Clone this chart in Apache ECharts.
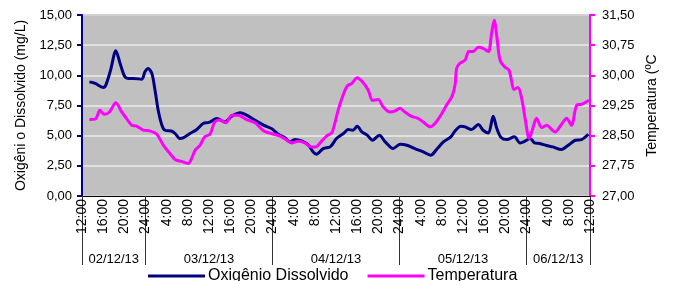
<!DOCTYPE html>
<html>
<head>
<meta charset="utf-8">
<script src="https://cdn.jsdelivr.net/npm/echarts@6/dist/echarts.min.js"></script>
<style>
  html, body { margin: 0; padding: 0; background: #fff; }
  #chart { width: 674px; height: 281px; }
</style>
</head>
<body>
<div id="chart"></div>
<script>
// hours since 02/12/13 12:00
const doHours = [1.4, 2.5, 4.0, 4.5, 5.4, 6.4, 7.2, 8.1, 8.9, 9.7, 11.3, 11.9, 12.5, 13.2, 13.8, 14.4, 15.1, 15.7, 16.9, 17.6, 18.5, 19.1, 20.4, 21.7, 22.9, 24.0, 25.5, 27.0, 28.3, 29.9, 31.1, 32.7, 34.3, 35.8, 37.1, 38.4, 39.3, 40.2, 41.5, 42.8, 43.7, 44.3, 45.6, 46.9, 48.1, 49.4, 50.3, 51.2, 52.0, 52.9, 53.9, 54.9, 56.2, 57.3, 58.8, 60.1, 61.4, 62.9, 64.5, 65.9, 67.0, 68.3, 69.7, 70.5, 71.6, 72.4, 73.6, 74.9, 75.8, 76.8, 77.7, 78.4, 79.2, 80.3, 81.7, 82.8, 83.7, 84.7, 85.5, 86.5, 87.8, 89.0, 90.6, 91.9, 93.2, 94.4, 95.7];
const doValues = [9.46, 9.33, 9.0, 9.19, 10.43, 12.03, 10.99, 9.88, 9.74, 9.74, 9.68, 10.29, 10.57, 10.16, 8.77, 7.11, 5.87, 5.45, 5.39, 5.18, 4.76, 4.81, 5.18, 5.51, 6.01, 6.1, 6.42, 6.14, 6.61, 6.89, 6.70, 6.28, 5.87, 5.59, 5.12, 4.81, 4.48, 4.68, 4.56, 4.21, 3.65, 3.46, 3.93, 4.07, 4.76, 5.18, 5.51, 5.45, 5.78, 5.31, 5.04, 4.62, 5.04, 4.48, 3.93, 4.29, 4.21, 3.93, 3.65, 3.38, 3.85, 4.48, 4.90, 5.39, 5.78, 5.73, 5.51, 5.92, 5.45, 5.23, 6.61, 5.59, 4.85, 4.68, 4.90, 4.40, 4.54, 4.76, 4.40, 4.35, 4.18, 4.07, 3.85, 4.21, 4.62, 4.68, 5.12];

const tempHours = [1.4, 2.5, 3.4, 4.2, 5.2, 6.4, 7.5, 8.4, 9.4, 10.3, 11.6, 12.8, 14.1, 15.4, 16.6, 17.6, 18.8, 20.1, 20.7, 21.4, 22.3, 23.2, 24.2, 25.1, 26.1, 27.2, 28.3, 29.5, 31.1, 32.7, 34.3, 35.8, 37.4, 38.7, 39.6, 40.9, 42.1, 43.4, 44.2, 45.0, 46.2, 47.2, 47.6, 48.4, 49.1, 50.1, 51.0, 52.0, 53.0, 54.1, 54.9, 56.0, 56.9, 58.2, 59.1, 60.1, 61.0, 62.3, 63.5, 64.5, 65.8, 66.7, 68.0, 68.9, 69.9, 70.5, 70.8, 71.4, 72.4, 73.1, 73.9, 74.9, 75.8, 76.8, 77.4, 77.9, 78.4, 79.0, 79.9, 80.7, 81.7, 82.4, 83.1, 83.8, 84.5, 85.1, 85.9, 86.9, 87.8, 89.4, 90.5, 91.6, 92.5, 93.5, 94.4, 95.3, 95.8];
const tempValues = [28.90, 28.91, 29.13, 29.03, 29.09, 29.32, 29.09, 28.93, 28.76, 28.74, 28.64, 28.62, 28.54, 28.26, 28.06, 27.91, 27.86, 27.81, 27.93, 28.14, 28.26, 28.47, 28.54, 28.84, 28.89, 28.82, 29.01, 29.01, 28.90, 28.82, 28.62, 28.55, 28.49, 28.39, 28.32, 28.36, 28.32, 28.22, 28.22, 28.32, 28.49, 28.57, 28.72, 29.13, 29.42, 29.73, 29.80, 29.94, 29.84, 29.63, 29.38, 29.40, 29.22, 29.09, 29.11, 29.18, 29.09, 28.98, 28.93, 28.84, 28.72, 28.80, 29.05, 29.26, 29.47, 29.76, 30.17, 30.30, 30.38, 30.59, 30.59, 30.70, 30.67, 30.59, 31.04, 31.37, 30.96, 30.38, 30.21, 30.13, 29.65, 29.70, 29.42, 28.88, 28.43, 28.64, 28.93, 28.70, 28.76, 28.59, 28.76, 28.93, 28.76, 29.26, 29.28, 29.34, 29.38];

const dayBounds = [0, 12, 36, 60, 84, 96];
const dayCenters = [6, 24, 48, 72, 90];
const dayLabels = ["02/12/13", "03/12/13", "04/12/13", "05/12/13", "06/12/13"];

const FONT = "Liberation Sans";
const NAVY = "#000080", MAGENTA = "#ff00ff";

const comma = (v) => v.toFixed(2).replace(".", ",");
const hourLabel = (v) => {
  const h = (12 + v) % 24;
  return (h === 0 && v !== 0 ? 24 : h) + ":00";
};
const zip = (xs, ys) => xs.map((x, i) => [x, ys[i]]);

const chart = echarts.init(document.getElementById("chart"), null, { renderer: "canvas" });
chart.setOption({
  animation: false,
  textStyle: { fontFamily: FONT },
  grid: {
    left: 82, right: 84, top: 15, bottom: 85,
    show: true, backgroundColor: "#c0c0c0", borderColor: "#808080", borderWidth: 2,
  },
  legend: {
    left: 143, top: 263, itemWidth: 57, itemHeight: 3, itemGap: 19, icon: "rect",
    textStyle: { fontFamily: FONT, fontSize: 16, color: "#000", padding: [0, 0, 0, -2] },
    data: ["Oxigênio Dissolvido", "Temperatura"],
  },
  xAxis: [
    {
      type: "value", min: 0, max: 96, interval: 4,
      axisLine: { onZero: false, lineStyle: { color: "#000", width: 1 } },
      axisTick: { show: false },
      splitLine: { show: false },
      axisLabel: {
        rotate: 90, margin: 3, fontSize: 14, color: "#000", fontFamily: FONT,
        formatter: hourLabel,
      },
    },
    {
      type: "value", min: 0, max: 96, position: "bottom",
      axisLine: { show: false, onZero: false },
      splitLine: { show: false },
      axisTick: { show: true, length: 69, customValues: dayBounds, lineStyle: { color: "#333" } },
      axisLabel: {
        margin: 57, fontSize: 13, color: "#000", fontFamily: FONT,
        customValues: dayCenters,
        formatter: (v) => dayLabels[dayCenters.indexOf(v)],
      },
    },
  ],
  yAxis: [
    {
      type: "value", min: 0, max: 15, interval: 2.5,
      name: "Oxigêni o Dissolvido (mg/L)", nameLocation: "middle", nameGap: 54,
      nameTextStyle: { fontFamily: FONT, fontSize: 14, color: "#000" },
      axisLine: { show: true, onZero: false, lineStyle: { color: NAVY, width: 2 } },
      axisTick: { show: true, length: 5, lineStyle: { color: NAVY, width: 2 } },
      axisLabel: { margin: 10, fontSize: 13, color: "#000", fontFamily: FONT, formatter: comma },
      splitLine: { show: true, lineStyle: { color: "#ececec", width: 1.5 } },
    },
    {
      type: "value", min: 27, max: 31.5, interval: 0.75, position: "right",
      name: "Temperatura (ºC", nameLocation: "middle", nameGap: 55,
      nameTextStyle: { fontFamily: FONT, fontSize: 14, color: "#000" },
      axisLine: { show: true, onZero: false, lineStyle: { color: MAGENTA, width: 2 } },
      axisTick: { show: true, length: 5, lineStyle: { color: MAGENTA, width: 2 } },
      axisLabel: { margin: 12, fontSize: 13, color: "#000", fontFamily: FONT, formatter: comma },
      splitLine: { show: false },
    },
  ],
  series: [
    {
      name: "Oxigênio Dissolvido", type: "line", xAxisIndex: 0, yAxisIndex: 0,
      data: zip(doHours, doValues), smooth: 0.3, showSymbol: false,
      lineStyle: { color: NAVY, width: 3 }, itemStyle: { color: NAVY },
    },
    {
      name: "Temperatura", type: "line", xAxisIndex: 0, yAxisIndex: 1,
      data: zip(tempHours, tempValues), smooth: 0.3, showSymbol: false,
      lineStyle: { color: MAGENTA, width: 3 }, itemStyle: { color: MAGENTA },
    },
  ],
});
</script>
</body>
</html>
